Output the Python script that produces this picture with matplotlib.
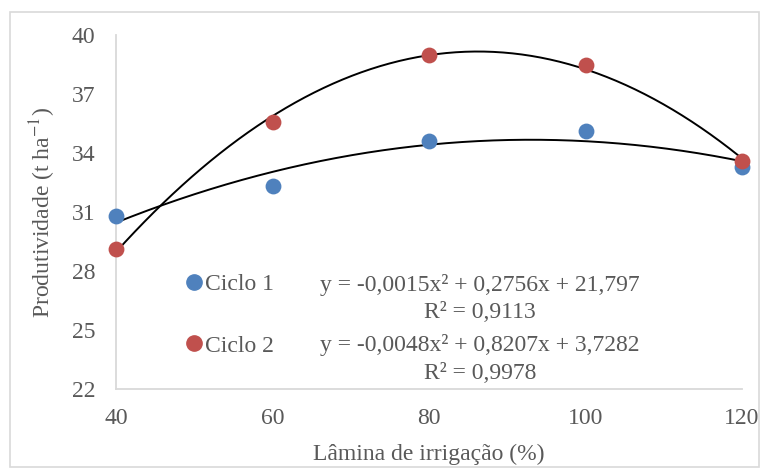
import matplotlib.pyplot as plt
import numpy as np
from matplotlib.lines import Line2D
from matplotlib.patches import Rectangle

plt.rcParams["font.family"] = ["Liberation Serif", "DejaVu Serif"]
plt.rcParams["mathtext.fontset"] = "stix"

lamina = [40, 60, 80, 100, 120]
ciclo1 = [30.8, 32.3, 34.6, 35.1, 33.3]
ciclo2 = [29.1, 35.6, 39.0, 38.5, 33.6]
y_ticks = [22, 25, 28, 31, 34, 37, 40]
x_ticks = [40, 60, 80, 100, 120]
eq1 = "y = -0,0015x² + 0,2756x + 21,797"
r2_1 = "R² = 0,9113"
eq2 = "y = -0,0048x² + 0,8207x + 3,7282"
r2_2 = "R² = 0,9978"

BLUE = "#4F81BD"
RED = "#C0504D"
GREY = "#595959"
FS = 17

fig = plt.figure(figsize=(7.6, 4.68), dpi=100)
fig.patches.append(Rectangle((10 / 760, 0.002), 749 / 760, 1 - 12 / 468 - 0.002,
                             transform=fig.transFigure, fill=False,
                             edgecolor="#d9d9d9", linewidth=1.2))
ax = fig.add_axes([116 / 760, 1 - 389 / 468, 626 / 760, 354 / 468])

# trendlines (2nd order polynomial fits, as in the spreadsheet)
xs = np.linspace(40, 120, 200)
for ys in (ciclo1, ciclo2):
    coef = np.polyfit(lamina, ys, 2)
    ax.plot(xs, np.polyval(coef, xs), color="black", linewidth=1.4, zorder=3, clip_on=False)

ax.scatter(lamina, ciclo1, s=130, color=BLUE, zorder=4, clip_on=False, linewidths=0)
ax.scatter(lamina, ciclo2, s=130, color=RED, zorder=4, clip_on=False, linewidths=0)

ax.set_xlim(40, 120)
ax.set_ylim(22, 40)
ax.set_xticks(x_ticks)
ax.set_yticks(y_ticks)
ax.tick_params(length=0, labelsize=FS, colors=GREY)
ax.tick_params(axis="y", pad=15)
ax.tick_params(axis="x", pad=14)
for side in ("top", "right"):
    ax.spines[side].set_visible(False)
for side in ("left", "bottom"):
    ax.spines[side].set_color("#d9d9d9")
    ax.spines[side].set_linewidth(1.3)

ax.set_xlabel("Lâmina de irrigação (%)", fontsize=FS, color=GREY, labelpad=10)
ax.set_ylabel("Produtividade (t ha$^{-1}$)", fontsize=FS, color=GREY, labelpad=10)

handles = [
    Line2D([], [], marker="o", linestyle="none", color=BLUE, markersize=11),
    Line2D([], [], marker="o", linestyle="none", color=RED, markersize=11),
]
ax.legend(handles, ["Ciclo 1", "Ciclo 2"], loc="center left", bbox_to_anchor=(0.105, 0.209),
          frameon=False, fontsize=FS, labelcolor=GREY, handletextpad=0.0,
          handlelength=1.0, labelspacing=1.7, borderaxespad=0, borderpad=0)

ax.text(0.581, 0.294, eq1, transform=ax.transAxes, ha="center", va="center", fontsize=FS, color=GREY)
ax.text(0.581, 0.215, r2_1, transform=ax.transAxes, ha="center", va="center", fontsize=FS, color=GREY)
ax.text(0.581, 0.124, eq2, transform=ax.transAxes, ha="center", va="center", fontsize=FS, color=GREY)
ax.text(0.581, 0.045, r2_2, transform=ax.transAxes, ha="center", va="center", fontsize=FS, color=GREY)

fig.savefig("out.png", dpi=100)
